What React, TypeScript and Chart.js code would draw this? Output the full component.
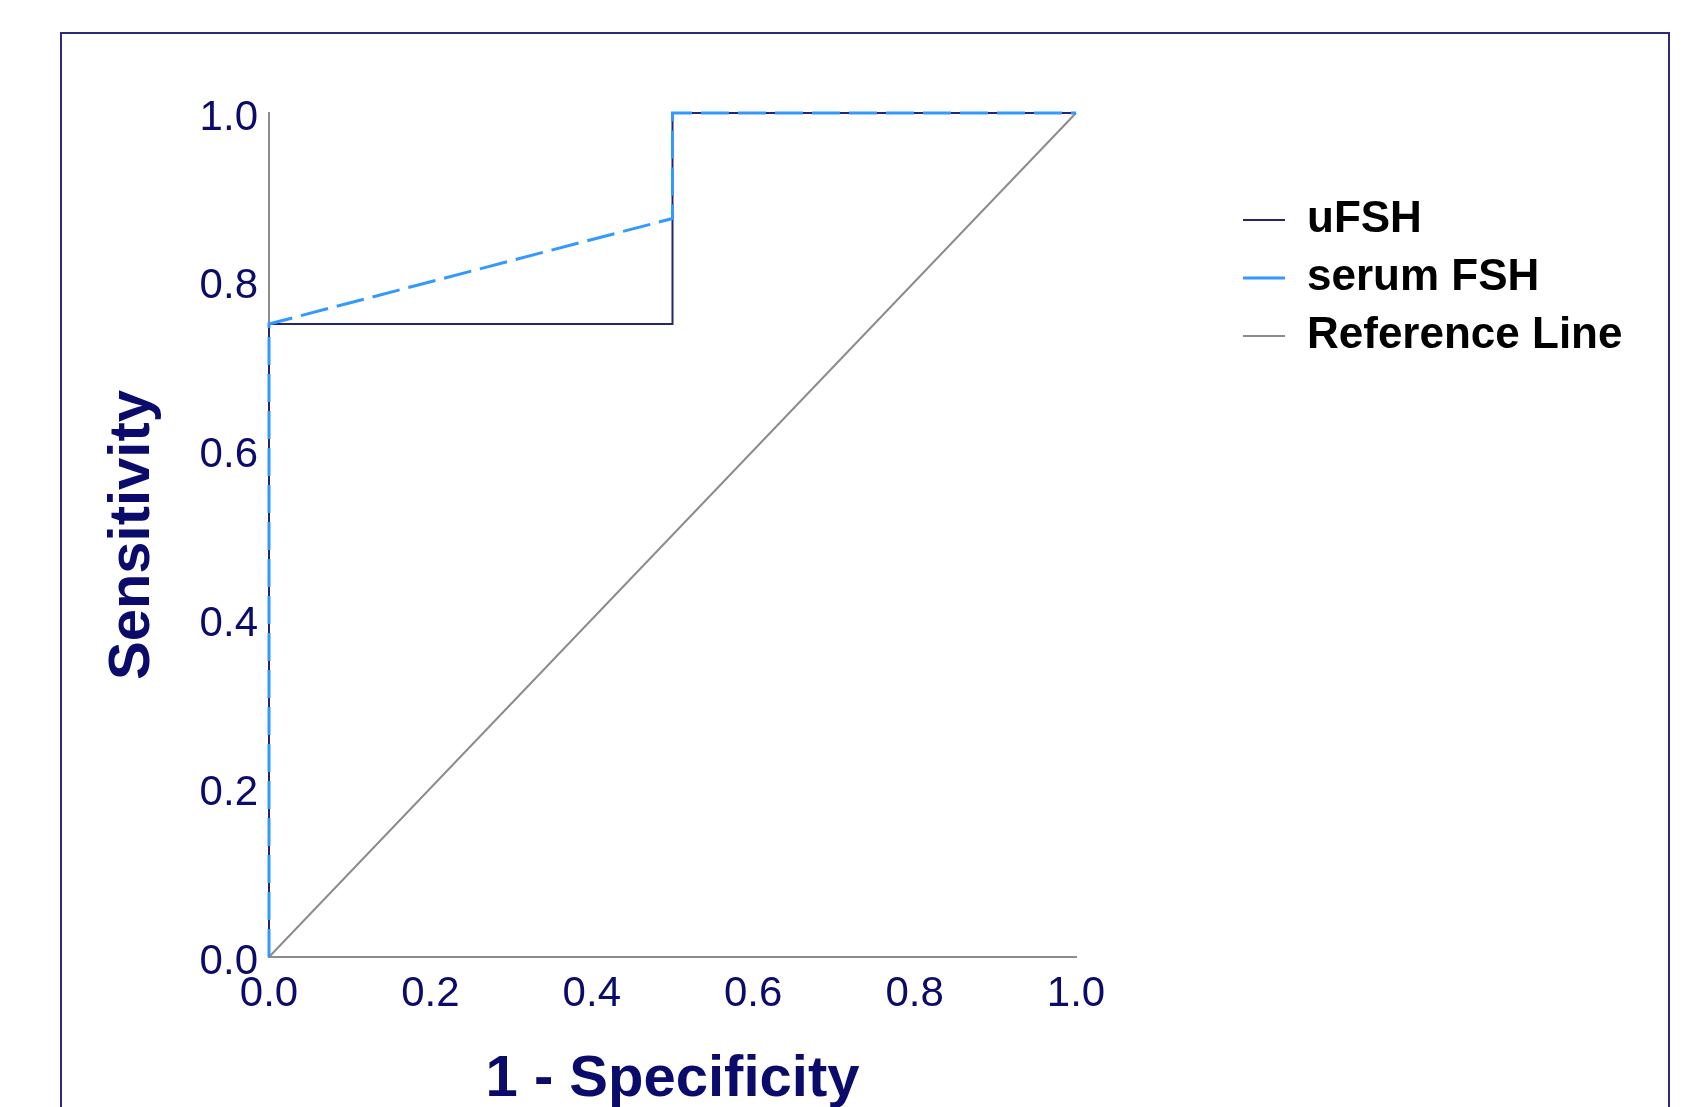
import React, { useEffect, useRef } from "react";
import { Chart, registerables } from "chart.js";

Chart.register(...registerables);

// ---- data ----
const seriesNames = ["uFSH", "serum FSH", "Reference Line"];
const uFshX = [0, 0, 0.5, 0.5, 1];
const uFshY = [0, 0.75, 0.75, 1, 1];
const serumX = [0, 0, 0.5, 0.5, 1];
const serumY = [0, 0.75, 0.875, 1, 1];
const refX = [0, 1];
const refY = [0, 1];
const xTicks = [0, 0.2, 0.4, 0.6, 0.8, 1.0];
const yTicks = [0, 0.2, 0.4, 0.6, 0.8, 1.0];
const xTitle = "1 - Specificity";
const yTitle = "Sensitivity";

const NAVY = "#0b0b6b";
const FONT = 'Arial, "Liberation Sans", sans-serif';
const LEGEND_GAP = 153; // space between plot area and legend

const pts = (xs: number[], ys: number[]) => xs.map((x, i) => ({ x, y: ys[i] }));

// moves the legend box away from the plot area by a fixed gap
const legendGapPlugin = {
  id: "legendGap",
  afterLayout(chart: any) {
    const lg = chart.legend;
    if (!lg) return;
    const w = lg.right - lg.left;
    lg.left = chart.chartArea.right + LEGEND_GAP;
    lg.right = lg.left + w;
  },
};

export default function App() {
  const ref = useRef<HTMLCanvasElement | null>(null);

  useEffect(() => {
    if (!ref.current) return;
    const chart = new Chart(ref.current, {
      type: "line",
      data: {
        datasets: [
          {
            label: seriesNames[0],
            data: pts(uFshX, uFshY),
            borderColor: "#26266f",
            backgroundColor: "#26266f",
            borderWidth: 2,
            pointRadius: 0,
            tension: 0,
            clip: false,
            order: 2,
          },
          {
            label: seriesNames[1],
            data: pts(serumX, serumY),
            borderColor: "#3399ff",
            backgroundColor: "#3399ff",
            borderWidth: 3,
            borderDash: [28, 9],
            pointRadius: 0,
            tension: 0,
            clip: false,
            order: 1,
          },
          {
            label: seriesNames[2],
            data: pts(refX, refY),
            borderColor: "#8c8c8c",
            backgroundColor: "#8c8c8c",
            borderWidth: 2,
            pointRadius: 0,
            tension: 0,
            clip: false,
            order: 3,
          },
        ],
      },
      plugins: [legendGapPlugin],
      options: {
        animation: false,
        responsive: false,
        devicePixelRatio: 1,
        layout: { padding: { left: 0, top: 0, right: 0, bottom: 0 } },
        plugins: {
          tooltip: { enabled: false },
          legend: {
            position: "right",
            align: "start",
            title: {
              display: true,
              text: " ",
              font: { size: 1, lineHeight: 1 },
              padding: { top: 183, bottom: 0 },
            },
            labels: {
              usePointStyle: true,
              pointStyle: "line",
              pointStyleWidth: 42,
              boxWidth: 42,
              boxHeight: 10,
              padding: 14,
              color: "#000000",
              font: { family: FONT, size: 44, weight: "bold" },
              sort: (a: any, b: any) => a.datasetIndex - b.datasetIndex,
            },
          },
        },
        scales: {
          x: {
            type: "linear",
            min: 0,
            max: 1,
            afterBuildTicks: (s: any) => {
              s.ticks = xTicks.map((v) => ({ value: v }));
            },
            afterFit: (s: any) => {
              s.height = 150;
              s.paddingRight = 614;
            },
            grid: { display: false, drawTicks: false },
            border: { display: true, color: "#8c8c8c", width: 2 },
            ticks: {
              autoSkip: false,
              maxRotation: 0,
              padding: 12,
              color: NAVY,
              font: { family: FONT, size: 42 },
              callback: (v: any) => Number(v).toFixed(1),
            },
            title: {
              display: true,
              text: xTitle,
              color: NAVY,
              font: { family: FONT, size: 58, weight: "bold", lineHeight: 0.9 },
              padding: { top: 0, bottom: 1 },
            },
          },
          y: {
            type: "linear",
            min: 0,
            max: 1,
            afterBuildTicks: (s: any) => {
              s.ticks = yTicks.map((v) => ({ value: v }));
            },
            afterFit: (s: any) => {
              s.width = 269;
              s.paddingTop = 113;
            },
            grid: { display: false, drawTicks: false },
            border: { display: true, color: "#8c8c8c", width: 2 },
            ticks: {
              autoSkip: false,
              padding: 11,
              labelOffset: 5,
              color: NAVY,
              font: { family: FONT, size: 42 },
              callback: (v: any) => Number(v).toFixed(1),
            },
            title: {
              display: true,
              text: yTitle,
              color: NAVY,
              font: { family: FONT, size: 58, weight: "bold", lineHeight: 1.2 },
              padding: { top: 98, bottom: 0 },
            },
          },
        },
      },
    });
    return () => chart.destroy();
  }, []);

  return (
    <div
      style={{
        position: "fixed",
        left: 0,
        top: 0,
        width: 1690,
        height: 1107,
        overflow: "hidden",
        background: "#ffffff",
      }}
    >
      <div
        style={{
          position: "absolute",
          left: 60,
          top: 32,
          width: 1610,
          height: 1200,
          boxSizing: "border-box",
          border: "2px solid #2b2b7b",
        }}
      />
      <canvas
        ref={ref}
        width={1690}
        height={1107}
        style={{ position: "absolute", left: 0, top: 0, width: 1690, height: 1107, display: "block" }}
      />
    </div>
  );
}
